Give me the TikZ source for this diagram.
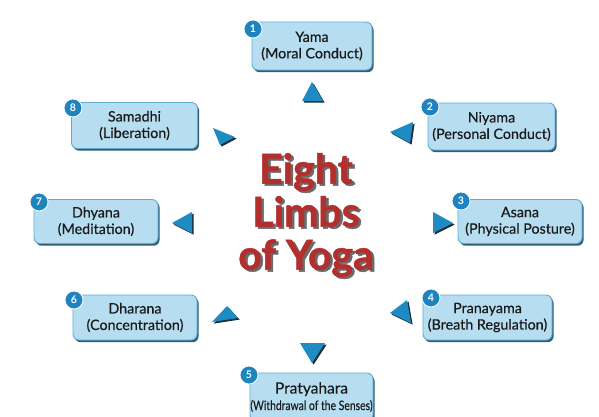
\documentclass[tikz,border=0pt]{standalone}
\usepackage{fontspec}
\setmainfont{Lato}
\newfontfamily\boxfont[FakeBold=0.35]{Lato}
\newfontfamily\titlefont[FakeBold=1.2]{Lato Bold}
\usetikzlibrary{shadows}
\definecolor{boxfill}{HTML}{B7DDF1}
\definecolor{boxline}{HTML}{5FAAD6}
\definecolor{boxshadow}{HTML}{2E5F78}
\definecolor{badgec}{HTML}{1E84C0}
\definecolor{trifill}{HTML}{1E8BC3}
\definecolor{trishadow}{HTML}{1A2E3B}
\definecolor{titlered}{HTML}{B22F2D}
\definecolor{titleshadow}{HTML}{6A6A6A}
\definecolor{textc}{HTML}{1A1A1A}
\begin{document}
\begin{tikzpicture}[x=1pt,y=-1pt,
  limb/.style={draw=boxline, line width=0.9pt, fill=boxfill, rounded corners=6pt,
    align=center, text=textc, inner sep=0pt,
    font=\boxfont\fontsize{14.3}{16.5}\selectfont,
    general shadow={fill=boxshadow, shadow xshift=1.6pt, shadow yshift=-2.2pt}},
  badge/.style={circle, fill=badgec, draw=white, line width=0.8pt, minimum size=18pt,
    inner sep=0pt, text=white, font=\fontsize{10.5}{10.5}\selectfont\bfseries},
  tri/.style={fill=trifill},
  trish/.style={fill=trishadow},
  title/.style={font=\titlefont\fontsize{41}{43}\selectfont, align=center, inner sep=0pt}
]
\clip (0,0) rectangle (599,416);
\fill[white] (0,0) rectangle (599,416);

% boxes
\node[limb, minimum width=120pt, minimum height=48pt] (yama) at (312,46) {Yama\\(Moral Conduct)};
\node[limb, minimum width=126pt, minimum height=46pt] (samadhi) at (134.5,125.5) {Samadhi\\(Liberation)};
\node[limb, minimum width=127pt, minimum height=47pt] (niyama) at (491.5,126.5) {Niyama\\(Personal Conduct)};
\node[limb, minimum width=124pt, minimum height=44pt] (dhyana) at (96,221.5) {Dhyana\\(Meditation)};
\node[limb, minimum width=124pt, minimum height=44pt] (asana) at (520,221.5) {Asana\\(Physical Posture)};
\node[limb, minimum width=124pt, minimum height=45pt] (dharana) at (135,317.5) {Dharana\\(Concentration)};
\node[limb, minimum width=129pt, minimum height=45pt] (pranayama) at (487.5,317.5) {Pranayama\\(Breath Regulation)};
\node[limb, minimum width=123pt, minimum height=48pt] (pratyahara) at (311.5,397) {\fontsize{15.5}{16}\selectfont Pratyahara\\\fontsize{13}{14}\selectfont\scalebox{0.8}[1]{(Withdrawal of the Senses)}};

% badges
\node[badge] (b1) at (253,29) {1};
\node[badge] (b8) at (73,108) {8};
\node[badge] (b2) at (430,107) {2};
\node[badge] (b7) at (39,202) {7};
\node[badge] (b3) at (461,201) {3};
\node[badge] (b6) at (74,300) {6};
\node[badge] (b4) at (431,298) {4};
\node[badge] (b5) at (249,375) {5};

% triangles (shadow then fill)
\foreach \a/\b/\c in {
  {(312,82)}/{(302,101)}/{(323,101)},
  {(390,132)}/{(413,122)}/{(410,143)},
  {(213,128)}/{(235,137)}/{(220,145)},
  {(172,223)}/{(192,212)}/{(192,233)},
  {(433,212)}/{(453,223)}/{(433,233)},
  {(227,306)}/{(238,318)}/{(212,322)},
  {(390,313)}/{(407,300)}/{(411,323)},
  {(300,343)}/{(325,343)}/{(312,363)}}
{
  \fill[trish, shift={(1.6,1.6)}] \a -- \b -- \c -- cycle;
  \fill[tri] \a -- \b -- \c -- cycle;
}

% title
\node[title, text=titleshadow] (tsh) at (308.5,217) {Eight\\Limbs\\of Yoga};
\node[title, text=titlered] (title) at (306,215) {Eight\\Limbs\\of Yoga};
\end{tikzpicture}
\end{document}
